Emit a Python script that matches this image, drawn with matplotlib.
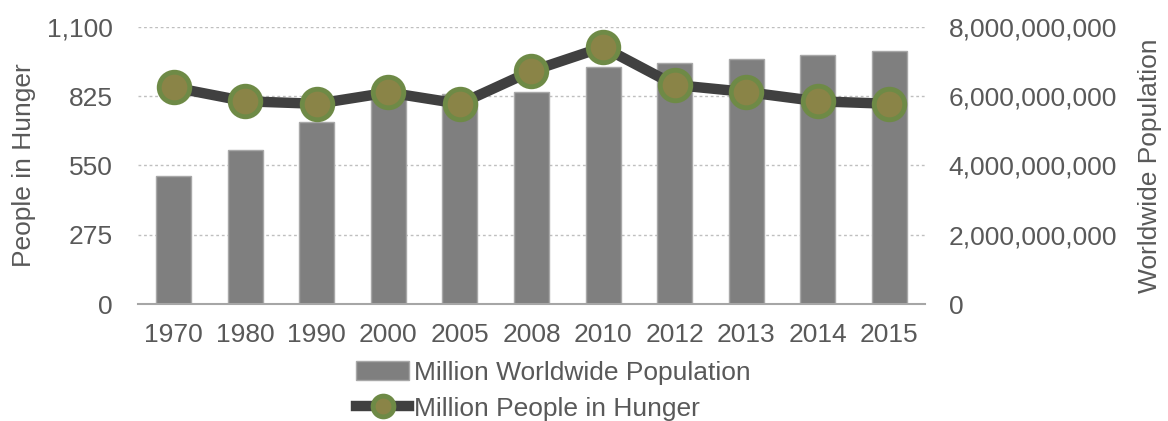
import matplotlib
matplotlib.use('Agg')
import matplotlib.pyplot as plt
import matplotlib.ticker as mtick
import numpy as np

years = ['1970', '1980', '1990', '2000', '2005', '2008', '2010', '2012', '2013', '2014', '2015']
population = [3.70e9, 4.45e9, 5.27e9, 6.00e9, 6.07e9, 6.12e9, 6.84e9, 6.95e9, 7.07e9, 7.19e9, 7.32e9]
hunger = [860, 805, 795, 840, 795, 925, 1020, 870, 842, 805, 795]

left_ticks = [0, 275, 550, 825, 1100]
right_ticks = [0, 2e9, 4e9, 6e9, 8e9]

plt.rcParams['font.family'] = ['Liberation Sans', 'DejaVu Sans']
text_color = '#595959'
fs = 19

fig = plt.figure(figsize=(11.68, 4.21), dpi=100)
ax = fig.add_axes([138 / 1168, 1 - 304 / 421, (925 - 138) / 1168, (304 - 27) / 421])
ax2 = ax.twinx()

x = np.arange(len(years))

# bars on the right axis, drawn underneath
bars = ax2.bar(x, population, width=0.49, color='#7f7f7f', edgecolor='#a8a8a8',
               linewidth=1, label='Million Worldwide Population', zorder=2)
ax2.set_ylim(0, 8e9)
ax2.set_yticks(right_ticks)
ax2.yaxis.set_major_formatter(mtick.FuncFormatter(lambda v, _: f'{int(v):,}'))
ax2.grid(axis='y', color='#bfbfbf', linestyle=(0, (2, 2)), linewidth=1, zorder=0)
ax2.set_axisbelow(True)

# line on the left axis, on top
line, = ax.plot(x, hunger, color='#404040', linewidth=7.5, marker='o', markersize=22,
                markerfacecolor='#8a8447', markeredgecolor='#6e8a46', markeredgewidth=3.5,
                label='Million People in Hunger', zorder=3)
ax.set_ylim(0, 1100)
ax.set_yticks(left_ticks)
ax.yaxis.set_major_formatter(mtick.FuncFormatter(lambda v, _: f'{int(v):,}'))
ax.set_xlim(-0.5, len(years) - 0.5)
ax.set_xticks(x)
ax.set_xticklabels(years)

ax.set_zorder(ax2.get_zorder() + 1)
ax.patch.set_visible(False)

for a in (ax, ax2):
    for s in ('top', 'left', 'right'):
        a.spines[s].set_visible(False)
    a.spines['bottom'].set_color('#a6a6a6')
    a.spines['bottom'].set_linewidth(1.5)
    a.tick_params(length=0, labelsize=fs, labelcolor=text_color)
ax2.spines['bottom'].set_visible(False)
ax.tick_params(axis='y', pad=18)
ax2.tick_params(axis='y', pad=17)
ax.tick_params(axis='x', pad=14)

ax.set_ylabel('People in Hunger', fontsize=fs, color=text_color, labelpad=8)
ax2.set_ylabel('Worldwide Population', fontsize=fs, color=text_color, labelpad=15)

fig.legend([bars, line], ['Million Worldwide Population', 'Million People in Hunger'],
           loc='center', bbox_to_anchor=(0.474, 0.072), frameon=False, fontsize=fs,
           labelcolor=text_color, handlelength=2.0, handletextpad=0.2,
           labelspacing=0.45, borderpad=0, markerscale=0.68)

fig.savefig('out.png', dpi=100)
